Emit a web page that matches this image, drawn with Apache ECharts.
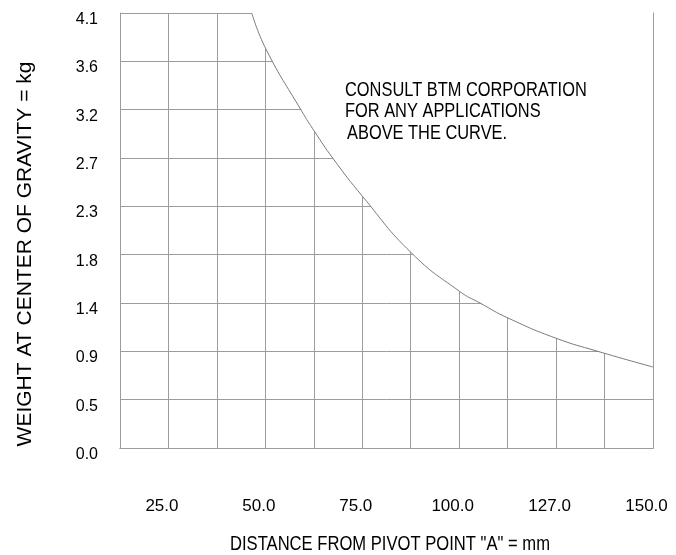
<!DOCTYPE html>
<html>
<head>
<meta charset="utf-8">
<script src="https://cdn.jsdelivr.net/npm/echarts@6/dist/echarts.min.js"></script>
<style>html,body{margin:0;padding:0;background:#fff}#c{width:676px;height:555px}</style>
</head>
<body>
<div id="c"></div>
<script>
// Curve (distance mm, weight kg)
var curveX = [46.5, 50.2, 59.4, 62.7, 67.4, 75.1, 87.7, 100.1, 105.4, 112.6, 125.0, 135.5, 150.0];
var curveY = [4.08, 3.74, 3.16, 2.97, 2.72, 2.36, 1.83, 1.47, 1.36, 1.22, 1.03, 0.91, 0.76];
// Tick labels
var xTickLabels = ['', '25.0', '', '50.0', '', '75.0', '', '100.0', '', '127.0', '', '150.0'];
var yTickLabels = ['0.0', '0.5', '0.9', '1.4', '1.8', '2.3', '2.7', '3.2', '3.6', '4.1'];
var xMin = 12.5, xStep = 12.5, xMax = 150;
var yStep = 0.4536, yMax = 4.0824;
var noteLines = ['CONSULT BTM CORPORATION', 'FOR ANY APPLICATIONS', 'ABOVE THE CURVE.'];
var xTitle = 'DISTANCE FROM PIVOT POINT "A" = mm';
var yTitle = 'WEIGHT AT CENTER OF GRAVITY = kg';

var sans = "'Liberation Sans', Arial, sans-serif";
var gridColor = '#9c9c9c';

var chart = echarts.init(document.getElementById('c'), null, {renderer: 'canvas'});
var data = curveX.map(function (x, i) { return [x, curveY[i]]; });

var graphics = noteLines.map(function (t, i) {
  return {
    type: 'text', x: 345 + (i === 2 ? 2 : 0), y: 80 + i * 21.5, scaleX: 0.82, z: 20,
    style: {text: t, font: '20px ' + sans, fill: '#000', textVerticalAlign: 'top'}
  };
});
graphics.push({
  type: 'text', x: 390, y: 544, scaleX: 0.81, z: 20,
  style: {text: xTitle, font: '20.5px ' + sans, fill: '#000', textAlign: 'center', textVerticalAlign: 'middle'}
});
graphics.push({
  type: 'text', x: 25, y: 254, rotation: Math.PI / 2, z: 20,
  style: {text: yTitle, font: '21px ' + sans, fill: '#000', textAlign: 'center', textVerticalAlign: 'middle'}
});

chart.setOption({
  animation: false,
  backgroundColor: '#fff',
  grid: {left: 120, right: 23, top: 13, bottom: 107, containLabel: false},
  xAxis: [{
    type: 'value', min: xMin, max: xMax, interval: xStep,
    axisLine: {show: true, lineStyle: {color: gridColor, width: 1}},
    axisTick: {show: false},
    splitLine: {show: true, lineStyle: {color: gridColor, width: 1}},
    axisLabel: {
      margin: 50, fontSize: 17, fontFamily: sans, color: '#000',
      padding: [0, 13, 0, 0],
      formatter: function (v) { return xTickLabels[Math.round((v - xMin) / xStep)] || ''; }
    }
  }, {
    type: 'value', min: xMin, max: xMax, position: 'top', z: 10,
    axisLine: {show: true, lineStyle: {color: gridColor, width: 1}},
    axisTick: {show: false}, axisLabel: {show: false}, splitLine: {show: false}
  }],
  yAxis: [{
    type: 'value', min: 0, max: yMax, interval: yStep,
    axisLine: {show: true, lineStyle: {color: gridColor, width: 1}},
    axisTick: {show: false},
    splitLine: {show: true, lineStyle: {color: gridColor, width: 1}},
    axisLabel: {
      margin: 22, fontSize: 16, fontFamily: sans, color: '#000',
      verticalAlign: 'top', lineHeight: 13,
      formatter: function (v) { return yTickLabels[Math.round(v / yStep)] || ''; }
    }
  }, {
    type: 'value', min: 0, max: yMax, position: 'right', z: 10,
    axisLine: {show: true, lineStyle: {color: gridColor, width: 1}},
    axisTick: {show: false}, axisLabel: {show: false}, splitLine: {show: false}
  }],
  graphic: graphics,
  series: [{
    type: 'line',
    data: data,
    smooth: 0.5,
    symbol: 'none',
    lineStyle: {color: '#7a7a7a', width: 1},
    areaStyle: {origin: 'end', color: '#ffffff', opacity: 1},
    z: 3
  }]
});
</script>
</body>
</html>
